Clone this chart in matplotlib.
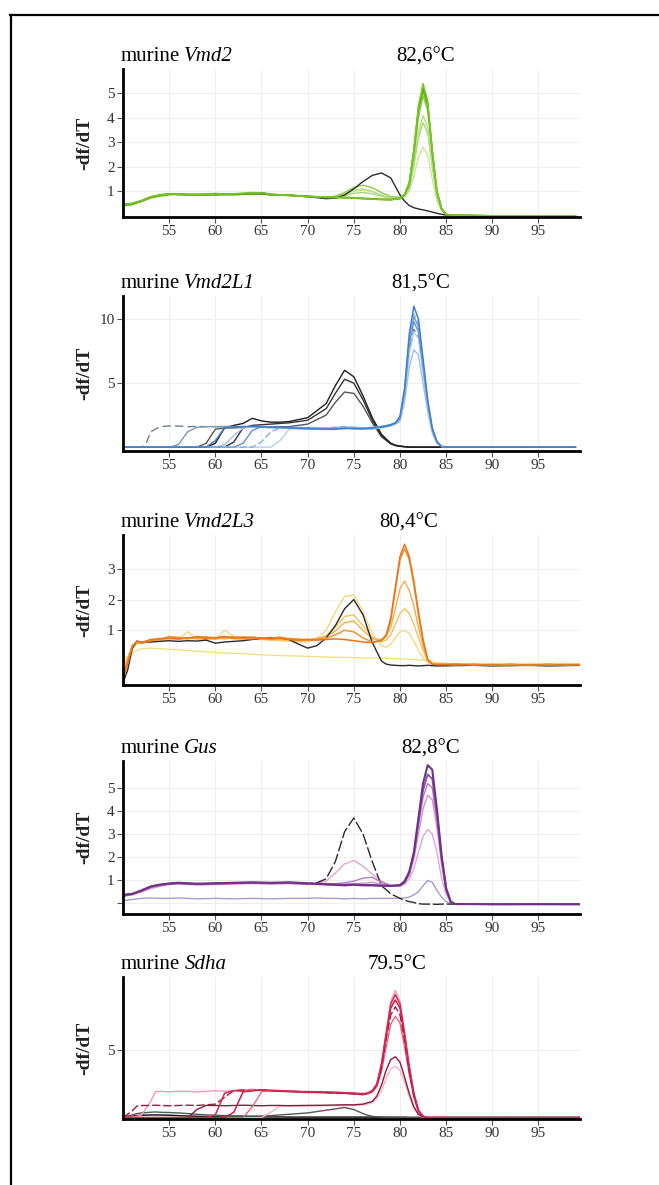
import matplotlib
matplotlib.use("Agg")
import matplotlib.pyplot as plt
from matplotlib.lines import Line2D

plt.rcParams['font.family'] = ['Liberation Serif', 'DejaVu Serif']

# ---- panel 1: murine Vmd2 (green) ----
t1 = [50, 51, 52, 53, 54, 55, 56, 58, 60, 62, 64, 65, 66, 68, 70, 72, 73, 74, 75, 76, 77, 78, 79,
      80, 80.5, 81, 81.5, 82, 82.5, 83, 83.5, 84, 84.5, 85, 86, 90, 95, 99]
vmd2_g1 = [0.45, 0.5, 0.62, 0.78, 0.85, 0.9, 0.88, 0.86, 0.88, 0.9, 0.95, 0.93, 0.86, 0.85, 0.78,
           0.76, 0.76, 0.74, 0.72, 0.7, 0.68, 0.66, 0.65, 0.72, 0.88, 1.35, 2.7, 4.5, 5.4, 4.7,
           2.7, 1.0, 0.3, 0.05, 0.02, 0, 0, 0]
vmd2_g2 = [0.42, 0.48, 0.6, 0.75, 0.82, 0.88, 0.9, 0.84, 0.9, 0.88, 0.92, 0.95, 0.88, 0.82, 0.8,
           0.74, 0.74, 0.76, 0.74, 0.72, 0.7, 0.68, 0.66, 0.7, 0.85, 1.3, 2.6, 4.3, 5.1, 4.5,
           2.6, 1.0, 0.3, 0.05, 0.02, 0, 0, 0]
vmd2_g3 = [0.4, 0.45, 0.58, 0.72, 0.8, 0.85, 0.88, 0.86, 0.92, 0.86, 0.9, 0.9, 0.84, 0.84, 0.78,
           0.76, 0.8, 0.95, 1.15, 1.25, 1.15, 0.95, 0.78, 0.76, 0.86, 1.25, 2.4, 4.0, 4.9, 4.3,
           2.5, 0.95, 0.28, 0.05, 0.02, 0, 0, 0]
vmd2_g4 = [0.48, 0.52, 0.62, 0.76, 0.84, 0.9, 0.86, 0.88, 0.86, 0.9, 0.93, 0.9, 0.87, 0.86, 0.79,
           0.75, 0.78, 0.9, 1.05, 1.1, 1.0, 0.85, 0.72, 0.72, 0.82, 1.15, 2.1, 3.4, 4.1, 3.6,
           2.1, 0.85, 0.25, 0.05, 0.02, 0, 0, 0]
vmd2_g5 = [0.44, 0.5, 0.6, 0.74, 0.82, 0.87, 0.9, 0.85, 0.9, 0.88, 0.94, 0.92, 0.85, 0.84, 0.77,
           0.74, 0.76, 0.82, 0.92, 0.95, 0.9, 0.8, 0.7, 0.7, 0.8, 1.1, 2.0, 3.2, 3.8, 3.4,
           2.0, 0.8, 0.25, 0.05, 0.02, 0, 0, 0]
vmd2_g6 = [0.46, 0.5, 0.6, 0.75, 0.83, 0.88, 0.87, 0.86, 0.88, 0.89, 0.92, 0.9, 0.86, 0.85, 0.78,
           0.75, 0.77, 0.85, 1.0, 1.05, 0.98, 0.85, 0.72, 0.7, 0.78, 1.0, 1.6, 2.4, 2.8, 2.5,
           1.5, 0.6, 0.2, 0.04, 0.02, 0, 0, 0]
vmd2_g7 = [0.43, 0.47, 0.6, 0.77, 0.86, 0.9, 0.87, 0.88, 0.87, 0.86, 0.9, 0.94, 0.88, 0.84, 0.8,
           0.76, 0.75, 0.73, 0.72, 0.7, 0.68, 0.67, 0.66, 0.71, 0.87, 1.32, 2.65, 4.4, 5.25, 4.6,
           2.65, 1.0, 0.3, 0.05, 0.02, 0, 0, 0]
vmd2_k1 = [0.45, 0.5, 0.62, 0.76, 0.84, 0.88, 0.87, 0.85, 0.86, 0.88, 0.9, 0.9, 0.86, 0.84, 0.78,
           0.7, 0.72, 0.85, 1.1, 1.4, 1.65, 1.75, 1.55, 0.85, 0.6, 0.42, 0.33, 0.28, 0.24, 0.2,
           0.15, 0.1, 0.06, 0.03, 0.01, 0, 0, 0]

# ---- panel 2: murine Vmd2L1 (blue) ----
t2 = [50, 52, 52.5, 53, 54, 55, 56, 57, 58, 59, 60, 61, 62, 63, 64, 65, 66, 67, 68, 70, 72, 73, 74,
      75, 76, 77, 78, 79, 79.5, 80, 80.5, 81, 81.5, 82, 82.5, 83, 83.5, 84, 84.5, 85, 90, 99]
l1_d = [0, 0, 0.3, 1.2, 1.6, 1.65, 1.65, 1.6, 1.62, 1.6, 1.6, 1.6, 1.62, 1.6, 1.62, 1.6, 1.55, 1.55,
        1.5, 1.45, 1.45, 1.5, 1.5, 1.45, 1.45, 1.5, 1.6, 1.75, 1.9, 2.2, 4.0, 7.5, 9.2, 8.6, 6.0,
        3.3, 1.3, 0.35, 0.05, 0, 0, 0]
l1_b1 = [0, 0, 0, 0, 0, 0, 0.2, 1.2, 1.55, 1.6, 1.6, 1.62, 1.6, 1.58, 1.6, 1.6, 1.55, 1.5, 1.5,
         1.45, 1.4, 1.45, 1.5, 1.45, 1.4, 1.45, 1.55, 1.7, 1.85, 2.3, 4.4, 8.2, 10.2, 9.4, 6.5,
         3.5, 1.4, 0.4, 0.05, 0, 0, 0]
l1_b2 = [0, 0, 0, 0, 0, 0, 0, 0, 0, 0, 0.5, 1.5, 1.6, 1.6, 1.62, 1.6, 1.55, 1.55, 1.5, 1.45, 1.4,
         1.4, 1.45, 1.45, 1.45, 1.5, 1.6, 1.75, 1.9, 2.4, 4.6, 8.8, 11.0, 10.0, 6.9, 3.7, 1.5,
         0.45, 0.05, 0, 0, 0]
l1_b3 = [0, 0, 0, 0, 0, 0, 0, 0, 0, 0, 0, 0, 0, 0.3, 1.3, 1.6, 1.6, 1.55, 1.55, 1.5, 1.45, 1.45,
         1.5, 1.5, 1.45, 1.5, 1.55, 1.7, 1.85, 2.2, 4.2, 8.0, 9.8, 9.0, 6.3, 3.4, 1.35, 0.4, 0.05,
         0, 0, 0]
l1_b4 = [0, 0, 0, 0, 0, 0, 0, 0, 0, 0, 0, 0, 0, 0, 0, 0.4, 1.2, 1.5, 1.55, 1.5, 1.5, 1.55, 1.6,
         1.55, 1.5, 1.55, 1.6, 1.75, 1.9, 2.3, 4.3, 8.3, 10.4, 9.6, 6.6, 3.6, 1.45, 0.4, 0.05,
         0, 0, 0]
l1_b5 = [0, 0, 0, 0, 0, 0, 0, 0, 0, 0, 0, 0, 0, 0, 0, 0, 0, 0.5, 1.4, 1.55, 1.5, 1.55, 1.6, 1.55,
         1.5, 1.55, 1.6, 1.7, 1.85, 2.1, 3.8, 7.2, 9.0, 8.5, 5.9, 3.2, 1.3, 0.35, 0.05, 0, 0, 0]
l1_b6 = [0, 0, 0, 0, 0, 0, 0, 0, 0, 0, 0, 0.2, 0.9, 1.5, 1.55, 1.55, 1.5, 1.5, 1.45, 1.4, 1.4,
         1.45, 1.5, 1.45, 1.4, 1.4, 1.5, 1.65, 1.8, 2.0, 3.5, 6.2, 7.6, 7.2, 5.0, 2.8, 1.1, 0.3,
         0.05, 0, 0, 0]
l1_k1 = [0, 0, 0, 0, 0, 0, 0, 0, 0, 0, 0.3, 1.5, 1.7, 1.85, 2.25, 2.05, 1.95, 1.95, 2.0, 2.3,
         3.4, 4.8, 6.0, 5.5, 4.0, 2.3, 1.0, 0.3, 0.15, 0.08, 0.04, 0, 0, 0, 0, 0, 0, 0, 0, 0, 0, 0]
l1_k2 = [0, 0, 0, 0, 0, 0, 0, 0, 0, 0, 0, 0, 0.4, 1.5, 1.7, 1.75, 1.8, 1.85, 1.9, 2.1, 3.0, 4.2,
         5.3, 5.0, 3.7, 2.1, 0.9, 0.3, 0.15, 0.08, 0.04, 0, 0, 0, 0, 0, 0, 0, 0, 0, 0, 0]
l1_k3 = [0, 0, 0, 0, 0, 0, 0, 0, 0, 0.3, 1.4, 1.5, 1.5, 1.55, 1.6, 1.55, 1.55, 1.6, 1.6, 1.8,
         2.5, 3.5, 4.3, 4.2, 3.2, 1.9, 0.8, 0.25, 0.12, 0.06, 0.03, 0, 0, 0, 0, 0, 0, 0, 0, 0, 0, 0]

# ---- panel 3: murine Vmd2L3 (orange) ----
t3 = [50, 50.5, 51, 51.5, 52, 53, 54, 55, 56, 57, 58, 59, 60, 61, 62, 63, 64, 65, 66, 67, 68, 69,
      70, 71, 72, 73, 74, 75, 76, 77, 78, 78.5, 79, 79.5, 80, 80.5, 81, 81.5, 82, 82.5, 83, 83.5,
      84, 86, 88, 90, 92, 94, 96, 98, 99.5]
l3_o1 = [-0.6, -0.1, 0.45, 0.65, 0.6, 0.7, 0.72, 0.75, 0.72, 0.75, 0.78, 0.74, 0.76, 0.8, 0.74,
         0.76, 0.78, 0.74, 0.72, 0.74, 0.7, 0.68, 0.7, 0.68, 0.7, 0.72, 0.7, 0.66, 0.62, 0.6, 0.68,
         0.85, 1.4, 2.4, 3.4, 3.8, 3.4, 2.6, 1.6, 0.7, 0.05, -0.1, -0.12, -0.1, -0.14, -0.12,
         -0.15, -0.12, -0.14, -0.12, -0.13]
l3_o2 = [-0.5, 0.0, 0.5, 0.62, 0.58, 0.66, 0.7, 0.8, 0.76, 0.72, 0.8, 0.78, 0.72, 0.76, 0.8, 0.74,
         0.72, 0.76, 0.74, 0.78, 0.72, 0.7, 0.68, 0.7, 0.74, 0.85, 1.0, 0.95, 0.75, 0.62, 0.66,
         0.8, 1.3, 2.3, 3.3, 3.65, 3.3, 2.5, 1.5, 0.65, 0.05, -0.1, -0.1, -0.13, -0.1, -0.14,
         -0.1, -0.15, -0.1, -0.14, -0.11]
l3_o3 = [-0.4, 0.05, 0.5, 0.6, 0.62, 0.68, 0.74, 0.72, 0.78, 0.74, 0.72, 0.8, 0.75, 0.72, 0.76,
         0.8, 0.74, 0.7, 0.72, 0.7, 0.74, 0.72, 0.7, 0.74, 0.8, 0.98, 1.25, 1.3, 1.0, 0.72, 0.7,
         0.8, 1.1, 1.7, 2.35, 2.6, 2.3, 1.8, 1.1, 0.5, 0.05, -0.08, -0.12, -0.1, -0.12, -0.1,
         -0.13, -0.1, -0.12, -0.1, -0.12]
l3_o4 = [-0.3, 0.1, 0.45, 0.58, 0.6, 0.62, 0.7, 0.74, 0.7, 0.76, 0.74, 0.7, 0.72, 0.76, 0.72, 0.7,
         0.75, 0.72, 0.68, 0.7, 0.66, 0.64, 0.66, 0.7, 0.82, 1.1, 1.45, 1.5, 1.15, 0.78, 0.62,
         0.68, 0.85, 1.2, 1.55, 1.7, 1.55, 1.2, 0.75, 0.35, 0.0, -0.1, -0.1, -0.12, -0.1, -0.12,
         -0.1, -0.12, -0.1, -0.12, -0.1]
l3_o5 = [-0.2, 0.15, 0.45, 0.55, 0.58, 0.62, 0.66, 0.7, 0.72, 0.95, 0.7, 0.74, 0.7, 1.0, 0.8,
         0.74, 0.72, 0.7, 0.68, 0.66, 0.64, 0.62, 0.62, 0.72, 1.0, 1.6, 2.1, 2.15, 1.6, 0.9, 0.5,
         0.45, 0.55, 0.75, 0.95, 1.0, 0.9, 0.65, 0.35, 0.1, -0.05, -0.1, -0.1, -0.1, -0.12, -0.1,
         -0.1, -0.12, -0.1, -0.1, -0.12]
l3_y0 = [0.1, 0.15, 0.25, 0.35, 0.4, 0.42, 0.4, 0.38, 0.36, 0.34, 0.32, 0.3, 0.28, 0.26, 0.25,
         0.24, 0.22, 0.2, 0.19, 0.18, 0.17, 0.16, 0.15, 0.14, 0.13, 0.12, 0.12, 0.11, 0.1, 0.1,
         0.09, 0.09, 0.08, 0.08, 0.07, 0.07, 0.06, 0.05, 0.04, 0.03, 0.01, -0.02, -0.05, -0.1,
         -0.1, -0.12, -0.1, -0.12, -0.1, -0.1, -0.1]
l3_k1 = [-0.7, -0.3, 0.4, 0.65, 0.6, 0.62, 0.64, 0.66, 0.64, 0.66, 0.65, 0.68, 0.58, 0.62, 0.64,
         0.66, 0.7, 0.74, 0.76, 0.76, 0.7, 0.55, 0.42, 0.5, 0.75, 1.15, 1.7, 2.0, 1.5, 0.6, 0.0,
         -0.1, -0.13, -0.14, -0.15, -0.15, -0.14, -0.15, -0.16, -0.15, -0.14, -0.15, -0.16,
         -0.15, -0.14, -0.16, -0.15, -0.14, -0.16, -0.15, -0.14]

# ---- panel 4: murine Gus (purple) ----
t4 = [50, 51, 52, 53, 54, 55, 56, 58, 60, 62, 64, 66, 68, 70, 71, 72, 73, 74, 75, 76, 77, 78, 79,
      80, 80.5, 81, 81.5, 82, 82.5, 83, 83.5, 84, 84.5, 85, 85.5, 86, 88, 90, 95, 99.5]
gus_p1 = [0.35, 0.4, 0.55, 0.72, 0.8, 0.85, 0.88, 0.84, 0.86, 0.88, 0.9, 0.88, 0.9, 0.86, 0.84,
          0.82, 0.8, 0.78, 0.8, 0.78, 0.78, 0.76, 0.75, 0.78, 0.95, 1.35, 2.2, 3.7, 5.2, 6.0, 5.8,
          4.1, 2.1, 0.65, 0.05, -0.05, -0.05, -0.06, -0.05, -0.06]
gus_p2 = [0.3, 0.38, 0.52, 0.7, 0.78, 0.83, 0.86, 0.82, 0.84, 0.86, 0.88, 0.86, 0.88, 0.84, 0.82,
          0.8, 0.78, 0.76, 0.78, 0.76, 0.76, 0.74, 0.73, 0.76, 0.9, 1.3, 2.1, 3.5, 4.9, 5.6, 5.4,
          3.9, 2.0, 0.6, 0.05, -0.05, -0.04, -0.05, -0.06, -0.05]
gus_p3 = [0.32, 0.38, 0.5, 0.66, 0.76, 0.82, 0.84, 0.8, 0.82, 0.84, 0.86, 0.84, 0.85, 0.82, 0.8,
          0.8, 0.8, 0.82, 0.84, 0.86, 0.9, 0.82, 0.74, 0.74, 0.86, 1.2, 1.9, 3.0, 4.1, 4.7, 4.5,
          3.3, 1.7, 0.5, 0.04, -0.05, -0.05, -0.05, -0.05, -0.05]
gus_p4 = [0.3, 0.35, 0.48, 0.62, 0.72, 0.8, 0.82, 0.78, 0.8, 0.82, 0.84, 0.82, 0.84, 0.8, 0.86,
          0.95, 1.3, 1.7, 1.85, 1.6, 1.25, 0.95, 0.75, 0.72, 0.82, 1.05, 1.5, 2.2, 2.9, 3.2, 3.0,
          2.2, 1.1, 0.35, 0.02, -0.05, -0.05, -0.05, -0.05, -0.05]
gus_p5 = [0.34, 0.4, 0.52, 0.68, 0.78, 0.84, 0.86, 0.82, 0.84, 0.86, 0.87, 0.85, 0.86, 0.83, 0.82,
          0.82, 0.84, 0.88, 0.95, 1.08, 1.12, 0.9, 0.76, 0.76, 0.9, 1.3, 2.1, 3.4, 4.6, 5.2, 5.0,
          3.6, 1.8, 0.55, 0.04, -0.05, -0.05, -0.05, -0.05, -0.05]
gus_lav = [0.1, 0.15, 0.2, 0.22, 0.2, 0.2, 0.22, 0.18, 0.2, 0.18, 0.2, 0.18, 0.2, 0.2, 0.22, 0.2,
           0.2, 0.18, 0.2, 0.18, 0.2, 0.2, 0.2, 0.2, 0.22, 0.26, 0.35, 0.5, 0.75, 0.98, 0.9, 0.55,
           0.25, 0.06, -0.03, -0.05, -0.05, -0.05, -0.05, -0.05]
gus_k1 = [0.35, 0.4, 0.55, 0.72, 0.8, 0.84, 0.86, 0.82, 0.85, 0.86, 0.88, 0.86, 0.86, 0.84, 0.88,
          1.05, 1.8, 3.1, 3.7, 3.0, 1.8, 0.75, 0.4, 0.2, 0.12, 0.06, 0.02, -0.03, -0.05, -0.05,
          -0.05, -0.06, -0.05, -0.05, -0.05, -0.05, -0.05, -0.05, -0.05, -0.05]

# ---- panel 5: murine Sdha (red) ----
t5 = [50, 51, 51.5, 52, 53, 53.5, 54, 55, 56, 57, 58, 59, 60, 61, 62, 63, 64, 65, 66, 67, 68, 70,
      72, 74, 75, 76, 76.5, 77, 77.5, 78, 78.5, 79, 79.5, 80, 80.5, 81, 81.5, 82, 82.5, 83, 85,
      90, 95, 99.5]
sdha_r1 = [0, 0.05, 0.1, 0.2, 1.2, 1.9, 1.95, 1.9, 1.95, 1.95, 1.9, 1.95, 2.0, 1.95, 2.0, 2.05,
           2.1, 2.0, 2.05, 2.0, 1.95, 1.95, 1.9, 1.85, 1.8, 1.8, 1.85, 2.0, 2.5, 4.0, 6.3, 8.6,
           9.4, 8.6, 6.4, 3.9, 1.9, 0.6, 0.1, 0.0, 0, 0, 0, 0]
sdha_r2 = [0, 0.5, 0.85, 0.9, 0.9, 0.92, 0.9, 0.88, 0.9, 0.92, 0.9, 0.95, 1.0, 1.5, 2.0, 2.05,
           2.0, 2.05, 2.0, 1.95, 1.95, 1.9, 1.85, 1.8, 1.75, 1.7, 1.8, 1.95, 2.4, 3.7, 5.8, 7.6,
           8.2, 7.6, 5.7, 3.4, 1.6, 0.5, 0.1, 0.0, 0, 0, 0, 0]
sdha_r3 = [0, 0, 0, 0, 0, 0, 0, 0, 0, 0, 0, 0, 0.2, 1.8, 2.0, 1.95, 2.0, 2.05, 2.0, 2.0, 1.95,
           1.9, 1.9, 1.85, 1.8, 1.75, 1.8, 2.0, 2.5, 4.0, 6.2, 8.4, 9.1, 8.4, 6.2, 3.8, 1.8, 0.55,
           0.1, 0.0, 0, 0, 0, 0]
sdha_r4 = [0, 0, 0, 0, 0, 0, 0, 0, 0, 0, 0, 0, 0, 0, 0.4, 1.9, 2.0, 2.05, 2.0, 1.95, 1.95, 1.9,
           1.85, 1.8, 1.8, 1.75, 1.8, 1.95, 2.4, 3.8, 6.0, 8.1, 8.7, 8.1, 6.0, 3.6, 1.7, 0.5, 0.1,
           0.0, 0, 0, 0, 0]
sdha_r5 = [0, 0, 0, 0, 0, 0, 0, 0, 0, 0, 0, 0, 0, 0, 0, 0, 0.8, 1.9, 2.0, 1.95, 1.9, 1.85, 1.85,
           1.8, 1.75, 1.7, 1.75, 1.9, 2.3, 3.4, 5.2, 6.9, 7.5, 7.0, 5.2, 3.2, 1.5, 0.45, 0.08, 0.0,
           0, 0, 0, 0]
sdha_r6 = [0, 0, 0, 0, 0, 0, 0, 0, 0, 0, 0.6, 0.9, 0.9, 0.88, 0.9, 0.92, 0.9, 0.88, 0.9, 0.9,
           0.88, 0.9, 0.92, 0.95, 0.95, 1.0, 1.1, 1.2, 1.6, 2.4, 3.5, 4.3, 4.5, 4.1, 3.0, 1.8, 0.8,
           0.25, 0.05, 0.0, 0, 0, 0, 0]
sdha_r7 = [0, 0, 0, 0, 0, 0, 0, 0, 0, 0, 0, 0, 0, 0, 0, 0, 0, 0, 0.4, 0.85, 0.9, 0.9, 0.88, 0.9,
           0.9, 0.95, 1.0, 1.1, 1.4, 2.0, 2.9, 3.6, 3.8, 3.5, 2.6, 1.6, 0.7, 0.2, 0.04, 0.0, 0, 0,
           0, 0]
sdha_k1 = [0.05, 0.2, 0.3, 0.35, 0.4, 0.42, 0.4, 0.38, 0.35, 0.3, 0.25, 0.2, 0.18, 0.15, 0.14,
           0.13, 0.12, 0.12, 0.15, 0.2, 0.25, 0.35, 0.55, 0.75, 0.6, 0.3, 0.18, 0.1, 0.06, 0.04,
           0.03, 0.02, 0.02, 0.01, 0.01, 0, 0, 0, 0, 0, 0, 0, 0, 0]
sdha_k2 = [0, 0.1, 0.15, 0.18, 0.2, 0.2, 0.2, 0.18, 0.15, 0.12, 0.1, 0.08, 0.06, 0.05, 0.05, 0.05,
           0.05, 0.05, 0.05, 0.05, 0.04, 0.04, 0.04, 0.04, 0.04, 0.04, 0.04, 0.04, 0.03, 0.03,
           0.03, 0.03, 0.03, 0.03, 0.03, 0.02, 0.02, 0.02, 0.02, 0.02, 0.02, 0.02, 0.02, 0.02]

genes = ["Vmd2", "Vmd2L1", "Vmd2L3", "Gus", "Sdha"]
tm_labels = ["82,6°C", "81,5°C", "80,4°C", "82,8°C", "79.5°C"]
tm_pos = [82.8, 82.2, 80.9, 83.3, 79.7]
x_ticks = [55, 60, 65, 70, 75, 80, 85, 90, 95]
y_ticks = [[1, 2, 3, 4, 5], [5, 10], [1, 2, 3], [0, 1, 2, 3, 4, 5], [5]]
y_tick_labels = [["1", "2", "3", "4", "5"], ["5", "10"], ["1", "2", "3"],
                 ["", "1", "2", "3", "4", "5"], ["5"]]
y_limits = [(-0.05, 6.0), (-0.3, 11.8), (-0.78, 4.1), (-0.48, 6.18), (-0.1, 10.4)]

# traces: (x, y, colour, linewidth, linestyle)
panels = [
    [(t1, vmd2_g6, "#c8e59c", 1.0, "-"), (t1, vmd2_g5, "#a9d86a", 1.0, "-"),
     (t1, vmd2_g4, "#b7df7e", 1.0, "-"), (t1, vmd2_g3, "#8fcb45", 1.0, "-"),
     (t1, vmd2_k1, "#2b2b2b", 1.0, "-"), (t1, vmd2_g2, "#6cbd1c", 1.1, "-"),
     (t1, vmd2_g7, "#58a814", 1.1, "-"), (t1, vmd2_g1, "#7ac62a", 1.1, "-")],
    [(t2, l1_k3, "#555555", 1.0, "-"), (t2, l1_k2, "#333333", 1.0, "-"),
     (t2, l1_k1, "#1e1e1e", 1.0, "-"), (t2, l1_d, "#6f7f92", 1.0, (0, (6, 3))),
     (t2, l1_b1, "#7c98ba", 1.0, "-"), (t2, l1_b6, "#9fc0e8", 1.0, "-"),
     (t2, l1_b5, "#b3d0f0", 1.0, "-"), (t2, l1_b3, "#5a92d4", 1.0, "-"),
     (t2, l1_b4, "#82b1e6", 1.0, (0, (5, 2))), (t2, l1_b2, "#3f7fc8", 1.1, "-")],
    [(t3, l3_y0, "#f3df86", 1.0, "-"), (t3, l3_o5, "#f9d77e", 1.0, "-"),
     (t3, l3_o4, "#f6c25a", 1.0, "-"), (t3, l3_o3, "#f5ad4a", 1.0, "-"),
     (t3, l3_k1, "#2a2a2a", 1.0, "-"), (t3, l3_o2, "#ef9432", 1.1, "-"),
     (t3, l3_o1, "#e8741c", 1.1, "-")],
    [(t4, gus_lav, "#a99ad0", 1.0, "-"), (t4, gus_p4, "#e7a3d6", 1.0, "-"),
     (t4, gus_k1, "#2a2a2a", 1.0, (0, (8, 2))), (t4, gus_p3, "#d48fd2", 1.0, "-"),
     (t4, gus_p5, "#b57cc4", 1.0, "-"), (t4, gus_p2, "#8e4fa8", 1.3, "-"),
     (t4, gus_p1, "#6e3385", 1.5, "-")],
    [(t5, sdha_k2, "#1a1a1a", 1.1, "-"), (t5, sdha_k1, "#555555", 1.0, "-"),
     (t5, sdha_r7, "#f3b3c2", 1.0, "-"), (t5, sdha_r1, "#f39aae", 1.0, "-"),
     (t5, sdha_r6, "#8a1a3c", 1.0, "-"), (t5, sdha_r5, "#e7667f", 1.0, "-"),
     (t5, sdha_r4, "#c81c4a", 1.1, "-"), (t5, sdha_r2, "#a3173f", 1.0, (0, (6, 2))),
     (t5, sdha_r3, "#d42a55", 1.1, "-")],
]

# axes boxes in pixels: (top, bottom)
W, H = 659, 1185
boxes = [(69, 217), (296, 451), (535, 685), (761, 914), (977, 1119)]
left_px, right_px = 123, 580

fig = plt.figure(figsize=(W / 100, H / 100), dpi=100)

for i in range(5):
    top, bottom = boxes[i]
    ax = fig.add_axes([left_px / W, 1 - bottom / H, (right_px - left_px) / W, (bottom - top) / H])
    for x, y, c, lw, ls in panels[i]:
        ax.plot(x, y, color=c, lw=lw, ls=ls)
    ax.set_xlim(50, 99.5)
    ax.set_ylim(*y_limits[i])
    ax.set_xticks(x_ticks)
    ax.set_xticklabels([str(v) for v in x_ticks], fontsize=11, color="#333333")
    ax.set_yticks(y_ticks[i])
    ax.set_yticklabels(y_tick_labels[i], fontsize=11, color="#333333")
    ax.grid(True, color="#eeeeee", lw=0.7)
    ax.set_axisbelow(True)
    for side in ["top", "right"]:
        ax.spines[side].set_visible(False)
    for side in ["left", "bottom"]:
        ax.spines[side].set_linewidth(2.0)
        ax.spines[side].set_color("black")
    ax.tick_params(direction="out", length=4, width=0.8, color="#555555", pad=2)
    ax.set_ylabel("-df/dT", fontsize=14, fontweight="bold", color="#222222")
    ax.yaxis.set_label_coords(-0.066, 0.5)
    # title: "murine" upright, gene name italic
    first = ax.annotate("murine", xy=(0, 1), xycoords="axes fraction",
                        xytext=(-2, 2), textcoords="offset points",
                        ha="left", va="bottom", fontsize=15)
    ax.annotate(genes[i], xy=(1, 0), xycoords=first, xytext=(3.5, 0),
                textcoords="offset points", ha="left", va="bottom",
                fontsize=15, fontstyle="italic")
    ax.annotate(tm_labels[i], xy=(tm_pos[i], 1), xycoords=("data", "axes fraction"),
                xytext=(0, 2), textcoords="offset points", ha="center", va="bottom", fontsize=15)

# page frame
fig.add_artist(Line2D([10 / W, 1], [1 - 15 / H, 1 - 15 / H], color="black", lw=1.6))
fig.add_artist(Line2D([11 / W, 11 / W], [0, 1 - 15 / H], color="black", lw=1.6))

fig.savefig("out.png", dpi=100)
